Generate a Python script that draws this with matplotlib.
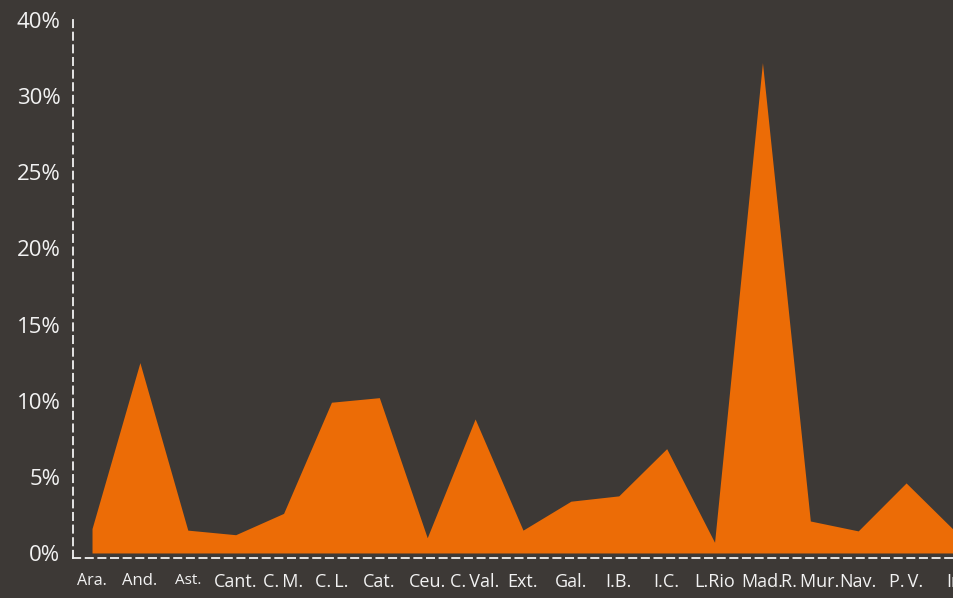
import matplotlib
matplotlib.use("Agg")
import matplotlib.pyplot as plt

# datos: porcentaje por comunidad autónoma
regiones = ["Ara.", "And.", "Ast.", "Cant.", "C.\u2009M.", "C.\u2009L.", "Cat.", "Ceu.", "C.\u2009Val.",
            "Ext.", "Gal.", "I.B.", "I.C.", "L.Rio", "Mad.", "R.\u2009Mur.", "Nav.", "P.\u2009V.", "In"]
porcentajes = [1.6, 12.5, 1.5, 1.2, 2.6, 9.9, 10.2, 1.0, 8.8,
               1.5, 3.4, 3.75, 6.85, 0.7, 32.2, 2.1, 1.45, 4.6, 1.5]
ticks_y = [0, 5, 10, 15, 20, 25, 30, 35]
etiquetas_y = ["0%", "5%", "10%", "15%", "20%", "25%", "30%", "40%"]

fondo = "#3d3936"
naranja = "#ec6c06"
blanco = "#f2f2f2"

plt.rcParams['font.family'] = ['Open Sans', 'DejaVu Sans']

fig = plt.figure(figsize=(9.54, 5.98), dpi=100, facecolor=fondo)
ax = fig.add_axes([73 / 954, 40 / 598, 881 / 954, 538 / 598])
ax.set_facecolor(fondo)

x = list(range(len(regiones)))
ax.fill_between(x, porcentajes, 0, color=naranja, linewidth=0)

ax.set_xlim(-0.397, len(regiones) - 1)
ax.set_ylim(-0.33, 35)

for lado in ["top", "right"]:
    ax.spines[lado].set_visible(False)
for lado in ["left", "bottom"]:
    ax.spines[lado].set_color(blanco)
    ax.spines[lado].set_linestyle((0, (4, 3)))
    ax.spines[lado].set_linewidth(1.3)

ax.set_yticks(ticks_y)
ax.set_yticklabels(etiquetas_y)
ax.tick_params(axis="y", length=0, pad=9, labelsize=16, labelcolor=blanco)

ax.set_xticks(x)
ax.set_xticklabels(regiones)
ax.tick_params(axis="x", length=0, pad=11, labelcolor=blanco)
tamanos = [11.5, 12, 11] + [13] * (len(regiones) - 3)
for lbl, t in zip(ax.get_xticklabels(), tamanos):
    lbl.set_fontsize(t)

fig.savefig("out.png", dpi=100, facecolor=fondo)
